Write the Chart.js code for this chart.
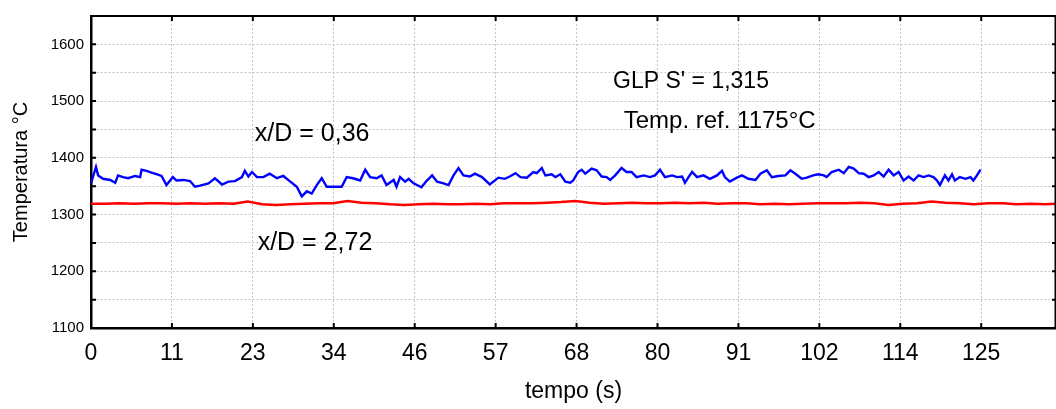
<!DOCTYPE html>
<html>
<head>
<meta charset="utf-8">
<script src="https://cdn.jsdelivr.net/npm/chart.js@4.4.1/dist/chart.umd.min.js"></script>
<style>
  html, body { margin: 0; padding: 0; background: #fff; }
</style>
</head>
<body>
<canvas id="myChart" width="1056" height="409"></canvas>
<script>
// x/D = 0,36 (blue)
const blueTime = [0, 0.7, 1.0, 1.7, 2.7, 3.4, 3.8, 4.5, 5.2, 6.2, 6.9, 7.1, 7.8, 8.5, 9.5, 9.9,
  10.6, 11.5, 12.0, 13.0, 13.9, 14.6, 15.3, 16.5, 17.4, 18.4, 19.3, 20.2, 21.2, 21.6, 22.1, 22.6,
  23.3, 24.2, 25.1, 26.1, 27.0, 27.9, 28.9, 29.6, 30.3, 31.0, 31.7, 32.4, 33.1, 34.0, 35.2, 35.9,
  36.8, 37.8, 38.5, 39.2, 40.1, 40.8, 41.5, 42.5, 42.9, 43.4, 44.1, 44.6, 45.3, 46.4, 47.1, 47.9,
  48.6, 49.5, 50.2, 50.9, 51.6, 52.3, 53.2, 53.9, 54.9, 56.0, 57.2, 58.1, 58.8, 59.6, 60.3, 61.2,
  62.1, 62.6, 63.3, 63.8, 64.7, 65.2, 65.9, 66.6, 67.3, 67.7, 68.4, 68.9, 69.4, 70.3, 71.0, 71.7,
  72.4, 72.9, 73.6, 74.5, 75.2, 75.9, 76.6, 77.6, 78.5, 79.2, 79.9, 80.6, 81.6, 82.3, 83.0, 83.4,
  83.9, 84.4, 85.1, 86.0, 86.9, 87.9, 88.6, 89.0, 89.7, 90.7, 91.4, 92.3, 93.3, 94.0, 94.9, 95.6,
  96.5, 97.5, 98.2, 98.9, 99.8, 100.5, 101.4, 102.1, 102.9, 103.3, 104.0, 105.0, 105.7, 106.4, 107.1, 107.8,
  108.5, 109.2, 109.9, 110.6, 111.3, 112.0, 112.7, 113.4, 114.1, 114.8, 115.5, 116.2, 116.9, 117.6, 118.3, 118.8,
  119.2, 119.9, 120.4, 120.9, 121.3, 122.0, 122.8, 123.5, 123.9, 124.4, 124.9];
const blueTemp = [1355, 1384, 1369, 1363, 1361, 1356, 1369, 1366, 1364, 1368, 1366, 1379, 1377, 1374, 1370, 1368,
  1352, 1366, 1360, 1361, 1359, 1349, 1351, 1355, 1364, 1353, 1358, 1359, 1366, 1377, 1367, 1375,
  1366, 1366, 1372, 1364, 1368, 1359, 1349, 1332, 1341, 1337, 1352, 1364, 1349, 1349, 1349, 1366,
  1364, 1360, 1379, 1366, 1364, 1369, 1352, 1361, 1349, 1366, 1358, 1363, 1355, 1348, 1359, 1369,
  1358, 1355, 1352, 1369, 1382, 1369, 1367, 1372, 1366, 1353, 1365, 1363, 1367, 1373, 1366, 1365,
  1375, 1373, 1382, 1369, 1371, 1366, 1371, 1358, 1356, 1360, 1375, 1379, 1372, 1381, 1378, 1367,
  1366, 1361, 1369, 1382, 1375, 1375, 1366, 1369, 1366, 1369, 1379, 1366, 1369, 1366, 1367, 1356,
  1366, 1375, 1366, 1369, 1363, 1369, 1377, 1366, 1358, 1365, 1369, 1363, 1361, 1372, 1378, 1366,
  1368, 1369, 1378, 1372, 1363, 1365, 1369, 1371, 1369, 1366, 1375, 1379, 1373, 1384, 1381, 1373,
  1372, 1366, 1369, 1375, 1367, 1379, 1369, 1375, 1360, 1367, 1360, 1369, 1366, 1369, 1366, 1360,
  1352, 1369, 1360, 1371, 1360, 1366, 1363, 1366, 1360, 1369, 1379];

// x/D = 2,72 (red)
const redTime = [0, 2, 4, 6, 8, 10, 12, 14, 16, 18, 20, 22, 24, 26, 28, 30, 32, 34, 36, 38,
  40, 42, 44, 46, 48, 50, 52, 54, 56, 58, 60, 62, 64, 66, 68, 70, 72, 74, 76, 78,
  80, 82, 84, 86, 88, 90, 92, 94, 96, 98, 100, 102, 104, 106, 108, 110, 112, 114, 116, 118,
  120, 122, 124, 126, 128, 130, 132, 134, 135.5];
const redTemp = [1319, 1319, 1320, 1319, 1320, 1320, 1319, 1320, 1319, 1320, 1319, 1323, 1318, 1317, 1318, 1319, 1320, 1320, 1324, 1321,
  1320, 1318, 1317, 1318, 1319, 1318, 1318, 1319, 1318, 1320, 1320, 1320, 1321, 1322, 1324, 1321, 1319, 1320, 1321, 1320,
  1320, 1321, 1320, 1321, 1319, 1320, 1320, 1318, 1319, 1318, 1319, 1320, 1320, 1320, 1321, 1320, 1317, 1319, 1320, 1323,
  1321, 1320, 1318, 1320, 1320, 1318, 1319, 1318, 1319];

const xTickLabels = ['0', '11', '23', '34', '46', '57', '68', '80', '91', '102', '114', '125'];
const yTickLabels = ['1100', '1200', '1300', '1400', '1500', '1600'];

// text inside the plot, placed in data units
const noteText = ['x/D = 0,36', 'x/D = 2,72', "GLP S' = 1,315", 'Temp. ref. 1175°C'];
const noteX = [23.0, 23.4, 73.3, 74.8];
const noteY = [1429, 1238, 1523, 1452];
const noteFont = [25, 25, 23, 24];

const FONT = '"Liberation Sans", Arial, sans-serif';

const framePlugin = {
  id: 'frame',
  afterDatasetsDraw(chart) {
    const {ctx, chartArea: a, scales: {x, y}} = chart;
    ctx.save();
    ctx.strokeStyle = '#000';
    ctx.lineWidth = 2;
    ctx.beginPath();
    ctx.moveTo(a.left, a.top);
    ctx.lineTo(a.right, a.top);
    ctx.stroke();
    ctx.lineWidth = 1.5;
    ctx.beginPath();
    ctx.moveTo(a.right - 0.75, a.top);
    ctx.lineTo(a.right - 0.75, a.bottom);
    ctx.stroke();

    // small inward ticks
    ctx.lineWidth = 2;
    x.ticks.forEach(t => {
      const px = x.getPixelForValue(t.value);
      ctx.beginPath();
      ctx.moveTo(px, a.bottom);
      ctx.lineTo(px, a.bottom - 5);
      ctx.moveTo(px, a.top);
      ctx.lineTo(px, a.top + 5);
      ctx.stroke();
    });
    y.ticks.forEach(t => {
      const py = y.getPixelForValue(t.value);
      ctx.beginPath();
      ctx.moveTo(a.left, py);
      ctx.lineTo(a.left + 5, py);
      ctx.moveTo(a.right, py);
      ctx.lineTo(a.right - 4, py);
      ctx.stroke();
    });

    ctx.fillStyle = '#000';
    ctx.textAlign = 'left';
    ctx.textBaseline = 'alphabetic';
    noteText.forEach((txt, i) => {
      ctx.font = noteFont[i] + 'px ' + FONT;
      ctx.fillText(txt, x.getPixelForValue(noteX[i]), y.getPixelForValue(noteY[i]));
    });
    ctx.restore();
  }
};

const ctx = document.getElementById('myChart');
const myChart = new Chart(ctx, {
  type: 'line',
  data: {
    datasets: [{
      label: 'x/D = 0,36',
      data: blueTime.map((t, i) => ({x: t, y: blueTemp[i]})),
      borderColor: '#0000ff',
      borderWidth: 2.4,
      pointRadius: 0,
      tension: 0
    }, {
      label: 'x/D = 2,72',
      data: redTime.map((t, i) => ({x: t, y: redTemp[i]})),
      borderColor: '#ff0000',
      borderWidth: 2.5,
      pointRadius: 0,
      tension: 0
    }]
  },
  options: {
    responsive: false,
    animation: false,
    layout: { padding: { top: 8, right: 0, left: 0, bottom: 0 } },
    plugins: {
      legend: { display: false },
      tooltip: { enabled: false }
    },
    scales: {
      x: {
        type: 'linear',
        min: 0,
        max: 135.5,
        afterBuildTicks: (scale) => {
          scale.ticks = xTickLabels.map((l, i) => ({ value: i * 125 / (xTickLabels.length - 1) }));
        },
        afterFit: (scale) => { scale.height = 81; },
        ticks: {
          autoSkip: false,
          maxRotation: 0,
          padding: 12,
          color: '#000',
          font: { family: FONT, size: 23 },
          callback: (v, i) => xTickLabels[i]
        },
        grid: { color: '#c4c4c4', lineWidth: 1, drawTicks: false },
        border: { display: true, color: '#000', width: 2.5, dash: [2, 2] },
        title: {
          display: true,
          text: 'tempo (s)',
          color: '#000',
          font: { family: FONT, size: 23 },
          padding: { top: 0, bottom: 4 }
        }
      },
      y: {
        min: 1100,
        max: 1650,
        afterFit: (scale) => { scale.width = 91; },
        ticks: {
          stepSize: 50,
          padding: 7,
          color: '#000',
          font: { family: FONT, size: 15 },
          callback: (v) => yTickLabels.includes(String(v)) ? String(v) : ''
        },
        grid: { color: '#c4c4c4', lineWidth: 1, drawTicks: false },
        border: { display: true, color: '#000', width: 2.5, dash: [2, 2] },
        title: {
          display: true,
          text: 'Temperatura °C',
          color: '#000',
          font: { family: FONT, size: 20 },
          padding: { top: 9, bottom: 0 }
        }
      }
    }
  },
  plugins: [framePlugin]
});
</script>
</body>
</html>
